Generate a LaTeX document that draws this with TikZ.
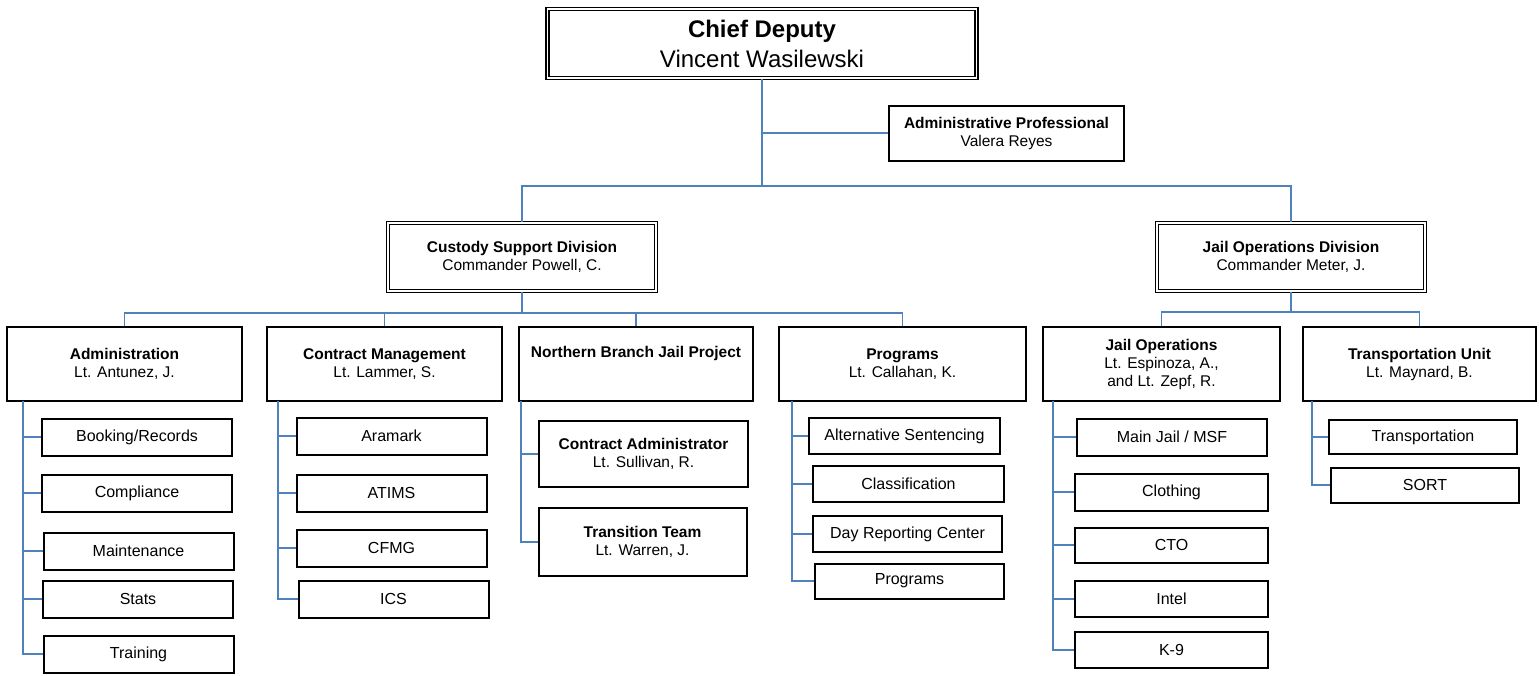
\documentclass[tikz,border=0pt]{standalone}
\usepackage{fontspec}
\setmainfont{Liberation Sans}
\usepackage{tikz}
\usetikzlibrary{positioning}
\definecolor{linkblue}{RGB}{79,129,189}
\tikzstyle{chief} = [rectangle, draw, double, line width=1.4pt, double distance=1.8pt, align=center, inner sep=0pt, font=\fontsize{24}{30}\selectfont]
\tikzstyle{division} = [rectangle, draw, double, line width=1.3pt, double distance=1.6pt, align=center, inner sep=0pt, minimum width=268pt, minimum height=68pt, font=\fontsize{15.5}{18}\selectfont]
\tikzstyle{unit} = [rectangle, draw, line width=2pt, align=center, inner sep=0pt, minimum height=74pt, font=\fontsize{15.5}{18}\selectfont]
\tikzstyle{leaf} = [rectangle, draw, line width=2pt, align=center, inner sep=0pt, minimum width=190pt, minimum height=37pt, font=\fontsize{16}{18}\selectfont]
\tikzstyle{line} = [draw, linkblue, line width=1.8pt]

\begin{document}
\begin{tikzpicture}[x=1pt, y=-1pt]
    \useasboundingbox (0,0) rectangle (1539,675);
    % top of the chart
    \node[chief, minimum width=429pt, minimum height=69pt] (CD) at (762,43.5) {\textbf{Chief Deputy}\\Vincent Wasilewski};
    \node[unit, minimum width=235pt, minimum height=55pt] (AP) at (1006.5,133) {\textbf{Administrative Professional}\\Valera Reyes};
    \node[division] (CSD) at (522,257) {\textbf{Custody Support Division}\\Commander Powell, C.};
    \node[division] (JOD) at (1291,257) {\textbf{Jail Operations Division}\\Commander Meter, J.};
    \coordinate (BUS) at (762,186);
    \path[line] (CD.south) -- (CD.south |- BUS);
    \path[line] (CD.south |- AP.west) -- (AP.west);
    \path[line] (CSD.north) |- (BUS) -| (JOD.north);
    % second row
    \node[unit, minimum width=235pt] (ADM) at (124.5,364) {\textbf{Administration}\\Lt. Antunez, J.};
    \node[unit, minimum width=235pt] (CM) at (384.5,364) {\textbf{Contract Management}\\Lt. Lammer, S.};
    \node[unit, minimum width=234pt] (NBJ) at (636,364) {\textbf{Northern Branch Jail Project}\\\strut};
    \node[unit, minimum width=247pt] (PRG) at (902.5,364) {\textbf{Programs}\\Lt. Callahan, K.};
    \node[unit, minimum width=237pt] (JO) at (1161.5,364) {\textbf{Jail Operations}\\Lt. Espinoza, A.,\\and Lt. Zepf, R.};
    \node[unit, minimum width=233pt] (TU) at (1419.5,364) {\textbf{Transportation Unit}\\Lt. Maynard, B.};
    \coordinate (CB) at (522,313);
    \coordinate (JB) at (1291,312);
    \path[line] (CSD.south) -- (CB);
    \path[line] (ADM.north) |- (CB) -| (PRG.north);
    \path[line] (CM.north) -- (CM.north |- CB);
    \path[line] (NBJ.north) -- (NBJ.north |- CB);
    \path[line] (JOD.south) -- (JB);
    \path[line] (JO.north) |- (JB) -| (TU.north);
    % Administration
    \node[leaf] (BR) at (137,437) {Booking/Records};
    \node[leaf] (CO) at (137,493) {Compliance};
    \node[leaf] (MA) at (138.5,551) {Maintenance};
    \node[leaf] (ST) at (138,599) {Stats};
    \node[leaf] (TR) at (138.5,654) {Training};
    \coordinate (tADM) at (23,401);
    \path[line] (tADM) |- (TR.west) (tADM |- BR.west) -- (BR.west) (tADM |- CO.west) -- (CO.west)
        (tADM |- MA.west) -- (MA.west) (tADM |- ST.west) -- (ST.west);
    % Contract Management
    \node[leaf] (AR) at (391.5,436) {Aramark};
    \node[leaf] (AT) at (391.5,493) {ATIMS};
    \node[leaf] (CF) at (391.5,548) {CFMG};
    \node[leaf] (IC) at (393.5,599) {ICS};
    \coordinate (tCM) at (278,401);
    \path[line] (tCM) |- (IC.west) (tCM |- AR.west) -- (AR.west) (tCM |- AT.west) -- (AT.west)
        (tCM |- CF.west) -- (CF.west);
    % Northern Branch Jail Project
    \node[unit, minimum width=209pt, minimum height=66pt] (CA) at (643.5,454) {\textbf{Contract Administrator}\\Lt. Sullivan, R.};
    \node[unit, minimum width=208pt, minimum height=68pt] (TT) at (642.5,542) {\textbf{Transition Team}\\Lt. Warren, J.};
    \coordinate (tNBJ) at (521,401);
    \path[line] (tNBJ) |- (TT.west) (tNBJ |- CA.west) -- (CA.west);
    % Programs
    \node[leaf, minimum width=191pt, minimum height=36pt] (AS) at (904.5,436) {Alternative Sentencing};
    \node[leaf, minimum width=191pt, minimum height=36pt] (CL) at (908.5,484) {Classification};
    \node[leaf, minimum width=189pt, minimum height=36pt] (DR) at (907.5,534) {Day Reporting Center};
    \node[leaf, minimum width=189pt, minimum height=35pt] (PR) at (909.5,581) {Programs};
    \coordinate (tPRG) at (792,401);
    \path[line] (tPRG) |- (PR.west) (tPRG |- AS.west) -- (AS.west) (tPRG |- CL.west) -- (CL.west)
        (tPRG |- DR.west) -- (DR.west);
    % Jail Operations
    \node[leaf] (MJ) at (1172,437) {Main Jail / MSF};
    \node[leaf, minimum width=193pt] (CT) at (1171.5,492) {Clothing};
    \node[leaf, minimum width=193pt, minimum height=35pt] (CTO) at (1171.5,545) {CTO};
    \node[leaf, minimum width=193pt, minimum height=36pt] (IN) at (1171.5,599) {Intel};
    \node[leaf, minimum width=193pt, minimum height=36pt] (K9) at (1171.5,650) {K-9};
    \coordinate (tJO) at (1053,401);
    \path[line] (tJO) |- (K9.west) (tJO |- MJ.west) -- (MJ.west) (tJO |- CT.west) -- (CT.west)
        (tJO |- CTO.west) -- (CTO.west) (tJO |- IN.west) -- (IN.west);
    % Transportation Unit
    \node[leaf, minimum width=188pt, minimum height=34pt] (TP) at (1423,437) {Transportation};
    \node[leaf, minimum width=188pt, minimum height=35pt] (SO) at (1425,485) {SORT};
    \coordinate (tTU) at (1312,401);
    \path[line] (tTU) |- (SO.west) (tTU |- TP.west) -- (TP.west);
\end{tikzpicture}
\end{document}
